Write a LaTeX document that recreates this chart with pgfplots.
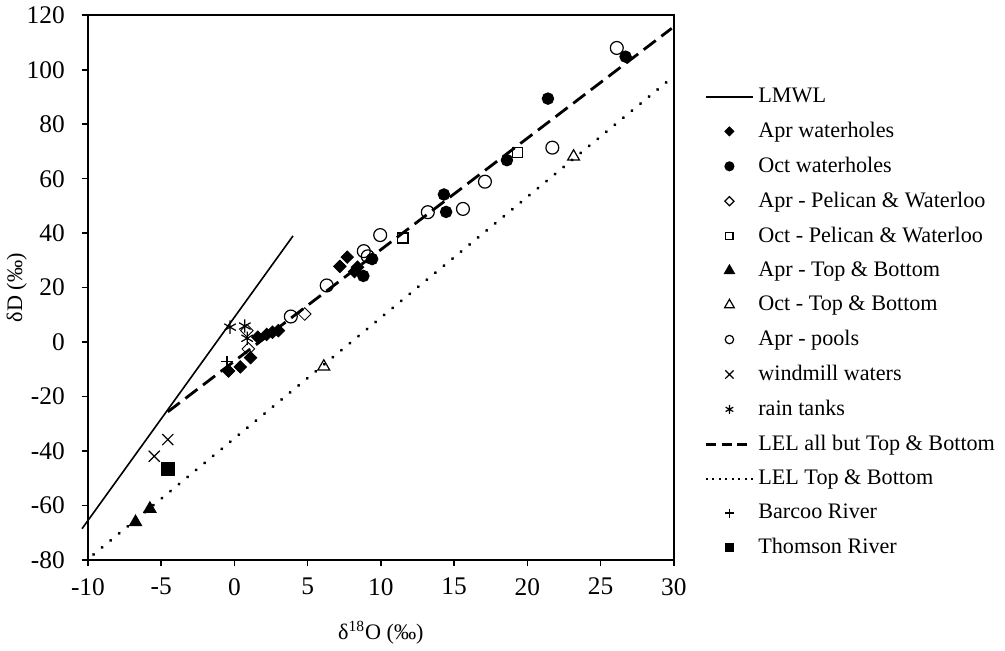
\documentclass[border=0pt]{standalone}
\usepackage{fontspec}
\setmainfont{Liberation Serif}
\usepackage{pgfplots}
\pgfplotsset{compat=1.18}
\newcommand{\figfont}{\fontsize{11}{13}\selectfont}
\newcommand{\tickfont}{\fontsize{12.6}{14}\selectfont}

\begin{document}
\begin{tikzpicture}
\begin{axis}[
    scale only axis,
    width=291pt, height=270.5pt,
    xmin=-10, xmax=30, ymin=-80, ymax=120,
    xtick={-10,-5,...,30},
    ytick={-80,-60,...,120},
    tick pos=left, tick align=outside,
    major tick length=3pt,
    axis line style={line width=1pt},
    every tick/.style={black, line width=0.8pt},
    /pgf/number format/assume math mode=true,
    tick label style={font=\tickfont},
    yticklabel style={xshift=-5pt},
    xticklabel style={yshift=-2.5pt},
    label style={font=\figfont},
    xlabel={δ\textsuperscript{18}O (‰)},
    ylabel={δD (‰)},
    xlabel style={yshift=-6pt},
    ylabel style={yshift=-7pt},
    clip=false,
    legend cell align=left,
    legend style={draw=none, font=\figfont, row sep=4.2pt,
        at={(axis description cs:1,1)}, anchor=north west,
        xshift=12pt, yshift=-32pt},
    legend image code/.code={\draw[mark repeat=2,mark phase=2,#1]
        plot coordinates {(0cm,0cm) (0.41cm,0cm) (0.82cm,0cm)};},
    every axis plot/.append style={black, mark options={line width=0.6pt, solid}},
]
% LMWL
\addplot[forget plot, line width=0.8pt, no marks] coordinates {(-10.4,-68.5) (4.0,39)};
% Apr waterholes
\addplot[forget plot, only marks, mark=square*, mark size=2.2pt, mark options={rotate=45, fill=black}] coordinates {
    (-0.4,-10.6) (0.4,-9.1) (1.1,-5.7) (1.6,1.8) (2.2,2.8) (2.6,3.6) (3.0,4.2)
    (7.2,27.8) (7.7,31.2) (8.2,25.9) (8.4,27.5)
};
% Oct waterholes
\addplot[forget plot, only marks, mark=*, mark size=2.8pt] coordinates {
    (8.8,24.3) (9.4,30.5) (14.3,54.2) (14.45,47.8) (18.6,66.8) (21.4,89.4) (26.7,104.8)
};
% Apr - Pelican & Waterloo
\addplot[forget plot, only marks, mark=square, mark size=2.2pt, mark options={rotate=45}] coordinates {
    (0.85,4.2) (0.95,-2.5) (4.8,10.3)
};
% Oct - Pelican & Waterloo
\addplot[forget plot, only marks, mark=square, mark size=2.5pt] coordinates {
    (11.5,38.2) (19.3,69.5)
};
% Apr - Top & Bottom
\addplot[forget plot, only marks, mark=triangle*, mark size=3.4pt] coordinates {
    (-6.75,-66.1) (-5.77,-61.2)
};
% Oct - Top & Bottom
\addplot[forget plot, only marks, mark=triangle, mark size=3.4pt] coordinates {
    (6.1,-9.0) (23.15,68.1)
};
% Apr - pools
\addplot[forget plot, only marks, mark=o, mark size=3.2pt] coordinates {
    (3.85,9.4) (6.3,20.8) (8.83,33.4) (9.1,31.5) (9.95,39.3) (13.2,47.7)
    (15.6,48.9) (17.1,58.9) (21.7,71.4) (26.1,108.0)
};
% windmill waters
\addplot[forget plot, only marks, mark=x, mark size=3.9pt] coordinates {
    (-4.55,-35.8) (-5.47,-41.9)
};
% rain tanks
\addplot[forget plot, only marks, mark=asterisk, mark size=3.3pt] coordinates {
    (-0.3,5.5) (0.71,5.9) (0.87,1.4)
};
% LEL all but Top & Bottom
\addplot[forget plot, line width=1.4pt, no marks, dash pattern=on 7.5pt off 3.5pt] coordinates {
    (-4.55,-25.6) (29.85,115.2)
};
% LEL Top & Bottom
\addplot[forget plot, line width=1.6pt, no marks, line cap=round, dash pattern=on 0.1pt off 5.4pt] coordinates {
    (-9.62,-78.0) (29.8,96.8)
};
% Barcoo River
\addplot[forget plot, only marks, mark=+, mark size=3pt] coordinates {(-0.5,-7.2)};
% Thomson River
\addplot[forget plot, only marks, mark=square*, mark size=3.1pt] coordinates {(-4.55,-46.7)};

% legend (smaller symbols than in the plot)
\addlegendimage{black, line width=0.8pt, no marks}
\addlegendentry{LMWL}
\addlegendimage{black, only marks, mark=square*, mark size=1.6pt, mark options={rotate=45}}
\addlegendentry{Apr waterholes}
\addlegendimage{black, only marks, mark=*, mark size=2.2pt}
\addlegendentry{Oct waterholes}
\addlegendimage{black, only marks, mark=square, mark size=1.6pt, mark options={rotate=45, line width=0.6pt}}
\addlegendentry{Apr - Pelican \& Waterloo}
\addlegendimage{black, only marks, mark=square, mark size=1.8pt, mark options={line width=0.6pt}}
\addlegendentry{Oct - Pelican \& Waterloo}
\addlegendimage{black, only marks, mark=triangle*, mark size=2.8pt}
\addlegendentry{Apr - Top \& Bottom}
\addlegendimage{black, only marks, mark=triangle, mark size=2.8pt, mark options={line width=0.6pt}}
\addlegendentry{Oct - Top \& Bottom}
\addlegendimage{black, only marks, mark=o, mark size=2.1pt, mark options={line width=0.6pt}}
\addlegendentry{Apr - pools}
\addlegendimage{black, only marks, mark=x, mark size=2.9pt, mark options={line width=0.6pt}}
\addlegendentry{windmill waters}
\addlegendimage{black, only marks, mark=asterisk, mark size=2.2pt, mark options={line width=0.6pt}}
\addlegendentry{rain tanks}
\addlegendimage{black, line width=1.4pt, no marks, dash pattern=on 5pt off 2.8pt}
\addlegendentry{LEL all but Top \& Bottom}
\addlegendimage{black, line width=0.8pt, no marks, dash pattern=on 1pt off 2.2pt}
\addlegendentry{LEL Top \& Bottom}
\addlegendimage{black, only marks, mark=+, mark size=2.2pt, mark options={line width=0.6pt}}
\addlegendentry{Barcoo River}
\addlegendimage{black, only marks, mark=square*, mark size=2pt}
\addlegendentry{Thomson River}
\end{axis}
\end{tikzpicture}
\end{document}
